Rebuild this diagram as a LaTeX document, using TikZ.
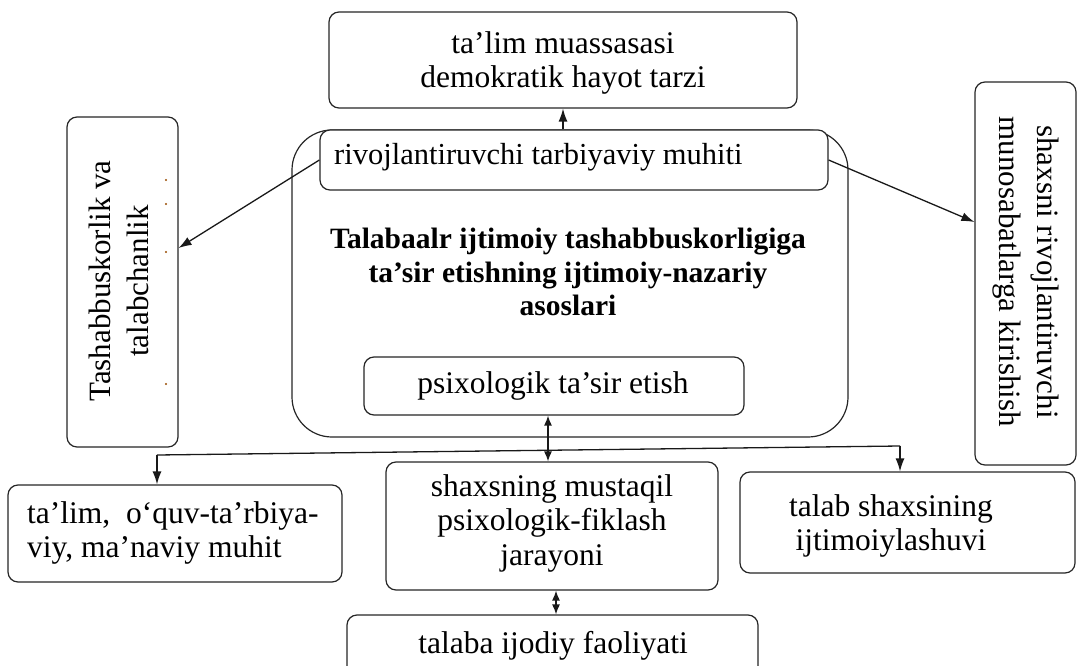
\documentclass[tikz,border=0pt]{standalone}
\usepackage{fontspec}
\setmainfont{Liberation Serif}
\usetikzlibrary{arrows.meta}
\begin{document}
\begin{tikzpicture}[x=1pt,y=-1pt,
  box/.style={draw=black!85, fill=white, rounded corners=10pt, line width=1.2pt, inner sep=0pt},
  txt/.style={inner sep=0pt, font=\fontsize{31.5}{34.5}\selectfont, align=center},
  rtxt/.style={inner sep=0pt, font=\fontsize{31}{38}\selectfont, align=center},
  conn/.style={draw=black!90, line width=1.3pt},
  arr/.style={conn, -{Latex[length=13pt,width=9pt]}},
  darr/.style={conn, {Latex[length=10pt,width=8pt]}-{Latex[length=10pt,width=8pt]}},
  dot/.style={fill=orange!60!black}]
\useasboundingbox (0,0) rectangle (1078,666);
\clip (0,0) rectangle (1078,666);
% top box
\node[box, minimum width=468pt, minimum height=96pt] (top) at (563,60) {};
\node[txt] (toptxt) at (563,63) {ta’lim muassasasi\\demokratik hayot tarzi};
% central big box
\node[box, rounded corners=40pt, minimum width=556pt, minimum height=307pt] (big) at (570,283.5) {};
\node[box, minimum width=508pt, minimum height=60pt] (rivoj) at (574,160) {};
\node[txt, font=\fontsize{30.5}{34}\selectfont, anchor=west] (rivojtxt) at (334,157) {rivojlantiruvchi tarbiyaviy muhiti};
\node[txt, font=\bfseries\fontsize{29.5}{33.5}\selectfont] (bold) at (568,272) {Talabaalr ijtimoiy tashabbuskorligiga\\ta’sir etishning ijtimoiy-nazariy\\asoslari};
\node[box, minimum width=380pt, minimum height=58pt] (psix) at (554,386) {};
\node[txt] (psixtxt) at (553,386) {psixologik ta’sir etish};
% left box
\node[box, minimum width=111pt, minimum height=330pt] (left) at (122.5,282) {};
\node[rtxt, rotate=90] (lefttxt) at (119,281) {Tashabbuskorlik va\\talabchanlik};
\fill[dot] (166,180) circle (1.2pt);
\fill[dot] (166,204) circle (1.2pt);
\fill[dot] (166,252) circle (1.2pt);
\fill[dot] (166,384) circle (1.2pt);
% right box
\node[box, minimum width=101pt, minimum height=383pt] (right) at (1025.5,273.5) {};
\node[rtxt, rotate=-90] (righttxt) at (1026,272) {shaxsni rivojlantiruvchi\\munosabatlarga kirishish};
% bottom boxes
\node[box, minimum width=334pt, minimum height=97pt] (b1) at (175,533.5) {};
\node[txt, align=left, anchor=west] (b1txt) at (27,533) {ta’lim,\ \ o‘quv-ta’rbiya-\\viy, ma’naviy muhit};
\node[box, minimum width=332pt, minimum height=128pt] (b2) at (552,526) {};
\node[txt] (b2txt) at (552,523) {shaxsning mustaqil\\psixologik-fiklash\\jarayoni};
\node[box, minimum width=335pt, minimum height=101pt] (b3) at (907.5,522.5) {};
\node[txt] (b3txt) at (891,526) {talab shaxsining\\ijtimoiylashuvi};
\node[box, minimum width=411pt, minimum height=65pt] (b4) at (552.5,647.5) {};
\node[txt] (b4txt) at (553,646) {talaba ijodiy faoliyati};
% connectors
\draw[arr] (top.south |- rivoj.north) -- (top.south);
\draw[arr] (rivoj.west) -- ([yshift=34pt]left.east);
\draw[arr] (rivoj.east) -- ([yshift=51.5pt]right.west);
\coordinate (vx) at ([xshift=-6pt]psix.south);
\draw[darr] (vx) -- (vx |- b2.north);
\coordinate (bl) at (157,455);
\coordinate (br) at (900,446);
\draw[conn] (bl) -- (br);
\draw[arr] (bl) -- (bl |- b1.north);
\draw[arr] (br) -- (br |- b3.north);
\coordinate (vy) at ([xshift=4pt]b2.south);
\draw[darr] (vy) -- (vy |- b4.north);
\end{tikzpicture}
\end{document}
